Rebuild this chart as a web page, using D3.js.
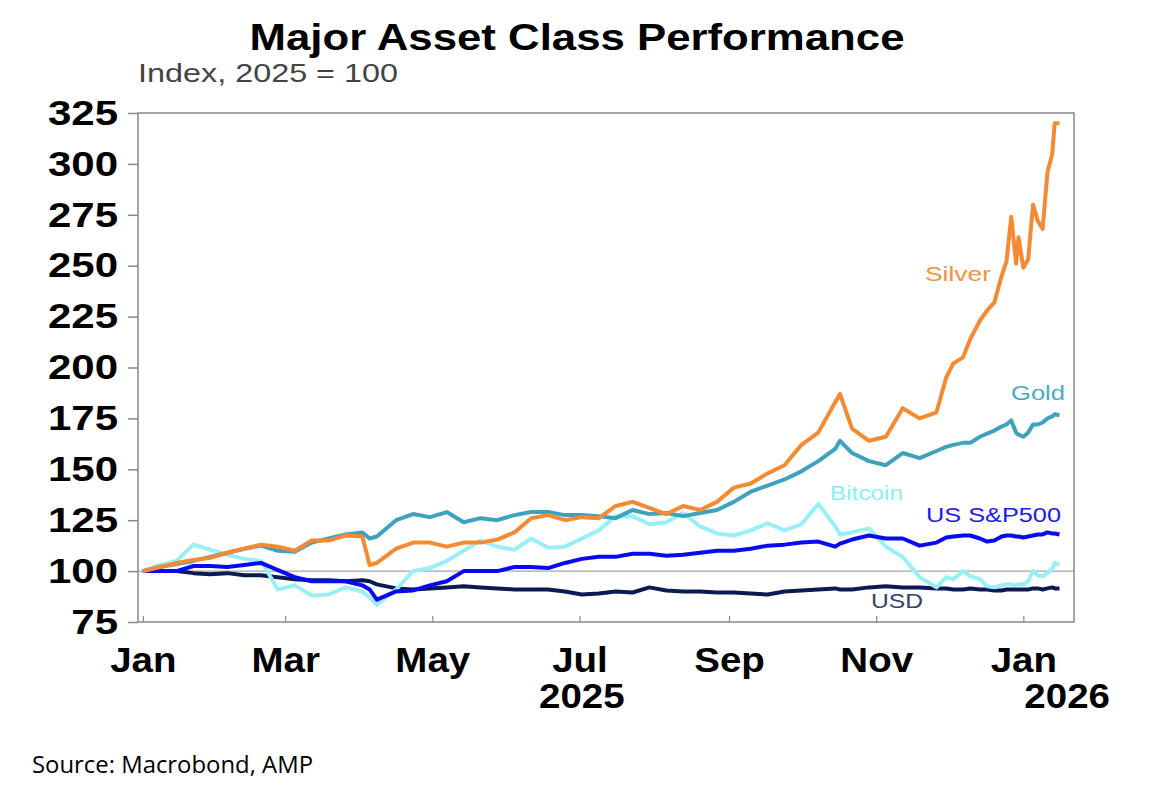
<!DOCTYPE html>
<meta charset="utf-8">
<script src="https://d3js.org/d3.v7.min.js"></script>
<style>
  body { margin: 0; background: #fff; }
  text { font-family: "Liberation Sans", Arial, sans-serif; }
</style>
<div id="chart"></div>
<script>

// observation dates (weekly, denser around the big moves)
var dates = ["2025-01-01","2025-01-08","2025-01-15","2025-01-22","2025-01-29","2025-02-05","2025-02-12","2025-02-19","2025-02-26","2025-03-05",
  "2025-03-12","2025-03-19","2025-03-26","2025-04-02","2025-04-05","2025-04-08","2025-04-16","2025-04-23","2025-04-30","2025-05-07",
  "2025-05-14","2025-05-21","2025-05-28","2025-06-04","2025-06-11","2025-06-18","2025-06-25","2025-07-02","2025-07-09","2025-07-16",
  "2025-07-23","2025-07-30","2025-08-06","2025-08-13","2025-08-20","2025-08-27","2025-09-03","2025-09-10","2025-09-17","2025-09-24",
  "2025-10-01","2025-10-08","2025-10-15","2025-10-17","2025-10-22","2025-10-29","2025-11-05","2025-11-12","2025-11-19","2025-11-26",
  "2025-11-30","2025-12-03","2025-12-07","2025-12-10","2025-12-14","2025-12-17","2025-12-20","2025-12-23","2025-12-25","2025-12-27",
  "2025-12-29","2025-12-30","2026-01-01","2026-01-03","2026-01-05","2026-01-07","2026-01-09","2026-01-11","2026-01-13","2026-01-14","2026-01-16"];

var silver = [100,102,104,105.5,106.5,109,111,113,112,110,
  115,115,117.5,117,103,104,111,114,114,112,
  114,114,115.5,119,126,127.5,125,126.5,126,132,
  134,131,128,132,130,134,141,143,148,152,
  162,168,183,187,170,164,166,180,175,178,
  195,202,205,214,223,228,232,245,252,274,
  251,264,249,253,280,272,268,296,305,320,320];

var gold = [100,102,103.5,105,107,109,111,112.5,110,109.5,
  114,116,118,119,116,117,125,128,126.5,129,
  124,126,125,127.5,129,129,127.5,127.5,127,126,
  130,128,128.5,127,128.5,130,134,139,142,145,
  149,154,160,164,158,154,152,158,155.5,159,
  161,162,163,163,166,167.5,169,171,172,174,
  168,167,166,168,172,172,173,175,176,177,176.5];

var bitcoin = [100,103,105,113,110.5,108,106,105,91,93,
  88,88.5,92,90,87,83.5,91,100,101.5,105,
  110,115,112,110.5,116,111.5,112,116,120,127,
  127,123,124,128.5,122,118.5,117.5,120,123.5,120,
  123,133,122,118,119,121,112,107,97,92,
  97,96,100,97.5,96,92.5,92,93,93.5,93.5,
  93,93.5,93.5,95,100,98,97.5,99,101,104,103];

var sp500 = [100,100,100,102.5,102.5,102,103,104,100.5,97,
  95,95,95,93,91,86,90,90.5,93,95,
  100,100,100,102,102,101.5,104,106,107,107,
  108.5,108.5,107.5,108,109,110,110,111,112.5,113,
  114,114.5,112,113.5,115.5,117.5,116,116,112.5,114,
  116.5,117,117.5,117.5,116,114.5,115,117,117.5,117.5,
  117,117,116.5,117,117.5,118,118,119,118.5,118.5,118];

var usd = [100,100,100,99,98.5,99,98,98,97,96,
  95.5,95.5,95,95.5,95,93.5,91.5,91,91.5,92,
  92.5,92,91.5,91,91,91,90,88.5,89,90,
  89.5,92,90.5,90,90,89.5,89.5,89,88.5,90,
  90.5,91,91.5,91,91,92,92.5,92,92,91.5,
  91.5,91,91,91.5,91,91,90.5,90.5,91,91,
  91,91,91,91,91.5,91.5,91,91.5,92,91.5,91.5];

var yTicks = [75,100,125,150,175,200,225,250,275,300,325];
var monthTicks = ["2025-01-01","2025-03-01","2025-05-01","2025-07-01","2025-09-01","2025-11-01","2026-01-01"];
var monthLabels = ["Jan","Mar","May","Jul","Sep","Nov","Jan"];

var width = 1154, height = 790;
var plot = {left: 138, right: 1074, top: 113, bottom: 622};

var parse = d3.timeParse("%Y-%m-%d");

var svg = d3.select("#chart").append("svg")
  .attr("width", width)
  .attr("height", height);

// scales: frame runs from 30 Dec 2024 to 22 Jan 2026
var x = d3.scaleTime()
  .domain([parse("2024-12-30"), parse("2026-01-22")])
  .range([plot.left, plot.right]);
var y = d3.scaleLinear()
  .domain([75, 325])
  .range([plot.bottom, plot.top]);

// the source picture is squeezed a bit wide, so stretch text to match
function stretch(sel, f) {
  sel.each(function() {
    var w = this.getComputedTextLength();
    d3.select(this).attr("textLength", w * f).attr("lengthAdjust", "spacingAndGlyphs");
  });
}

// titles
svg.append("text").attr("x", 577).attr("y", 50)
  .attr("text-anchor", "middle").style("font-size", "36px").style("font-weight", "bold")
  .attr("textLength", 655).attr("lengthAdjust", "spacingAndGlyphs")
  .text("Major Asset Class Performance");
svg.append("text").attr("x", 138).attr("y", 82)
  .style("font-size", "25px").style("fill", "#444")
  .attr("textLength", 260).attr("lengthAdjust", "spacingAndGlyphs")
  .text("Index, 2025 = 100");

// frame
svg.append("rect")
  .attr("x", plot.left).attr("y", plot.top)
  .attr("width", plot.right - plot.left).attr("height", plot.bottom - plot.top)
  .attr("fill", "none").attr("stroke", "#888").attr("stroke-width", 1.5);

// 100 reference line
svg.append("line")
  .attr("x1", plot.left).attr("x2", plot.right)
  .attr("y1", y(100)).attr("y2", y(100))
  .attr("stroke", "#a6a6a6").attr("stroke-width", 1.2);

// Y axis
var yAxis = svg.append("g")
  .attr("transform", "translate(" + plot.left + ",0)")
  .call(d3.axisLeft(y).tickValues(yTicks).tickSize(10).tickPadding(10));
yAxis.select(".domain").remove();
yAxis.selectAll("line").attr("stroke", "#888").attr("stroke-width", 1.5);
yAxis.selectAll("text")
  .style("font-size", "35px").style("font-weight", "bold")
  .style("font-family", "'Liberation Sans', Arial, sans-serif").attr("fill", "#000")
  .call(stretch, 1.2);

// X axis
var xAxis = svg.append("g")
  .attr("transform", "translate(0," + plot.bottom + ")")
  .call(d3.axisBottom(x)
    .tickValues(monthTicks.map(parse))
    .tickSize(-6)
    .tickFormat(function(d, i) { return monthLabels[i]; }));
xAxis.select(".domain").remove();
xAxis.selectAll("line").attr("stroke", "#888").attr("stroke-width", 1.2);
xAxis.selectAll("text")
  .attr("y", 50).attr("dy", 0)
  .style("font-size", "35px").style("font-weight", "bold")
  .style("font-family", "'Liberation Sans', Arial, sans-serif").attr("fill", "#000")
  .call(stretch, 1.1);

svg.append("text").attr("x", x(parse("2025-07-02"))).attr("y", 708)
  .attr("text-anchor", "middle").style("font-size", "35px").style("font-weight", "bold")
  .text("2025").call(stretch, 1.1);
svg.append("text").attr("x", 1110).attr("y", 708)
  .attr("text-anchor", "end").style("font-size", "35px").style("font-weight", "bold")
  .text("2026").call(stretch, 1.1);

// lines
var series = [
  {name: "USD", values: usd, color: "#0b1a52"},
  {name: "Bitcoin", values: bitcoin, color: "#98f0f6"},
  {name: "US S&P500", values: sp500, color: "#0a0af2"},
  {name: "Gold", values: gold, color: "#3da2bd"},
  {name: "Silver", values: silver, color: "#f68a33"}
];

var line = d3.line()
  .x(function(d) { return x(d.date); })
  .y(function(d) { return y(d.value); });

svg.selectAll(".series")
  .data(series)
  .enter()
  .append("path")
    .attr("class", "series")
    .attr("d", function(s) {
      return line(dates.map(function(dt, i) { return {date: parse(dt), value: s.values[i]}; }));
    })
    .attr("fill", "none")
    .attr("stroke", function(s) { return s.color; })
    .attr("stroke-width", 4)
    .attr("stroke-linejoin", "round");

// series labels
var labels = [
  {text: "Silver", x: 925, y: 281, w: 66, color: "#f7913a"},
  {text: "Gold", x: 1011, y: 400, w: 54, color: "#48abc4"},
  {text: "Bitcoin", x: 830, y: 500, w: 73, color: "#86f1f7"},
  {text: "US S&P500", x: 926, y: 522, w: 135, color: "#1a1aee"},
  {text: "USD", x: 871, y: 608, w: 52, color: "#34406e"}
];
svg.selectAll(".lbl")
  .data(labels)
  .enter()
  .append("text")
    .attr("class", "lbl")
    .attr("x", function(d) { return d.x; })
    .attr("y", function(d) { return d.y; })
    .attr("textLength", function(d) { return d.w; })
    .attr("lengthAdjust", "spacingAndGlyphs")
    .style("font-size", "20px")
    .style("fill", function(d) { return d.color; })
    .text(function(d) { return d.text; });

// source
svg.append("text").attr("x", 32).attr("y", 773)
  .style("font-family", "'Open Sans', sans-serif").style("font-size", "23px")
  .attr("textLength", 281).attr("lengthAdjust", "spacingAndGlyphs")
  .text("Source: Macrobond, AMP");

</script>
